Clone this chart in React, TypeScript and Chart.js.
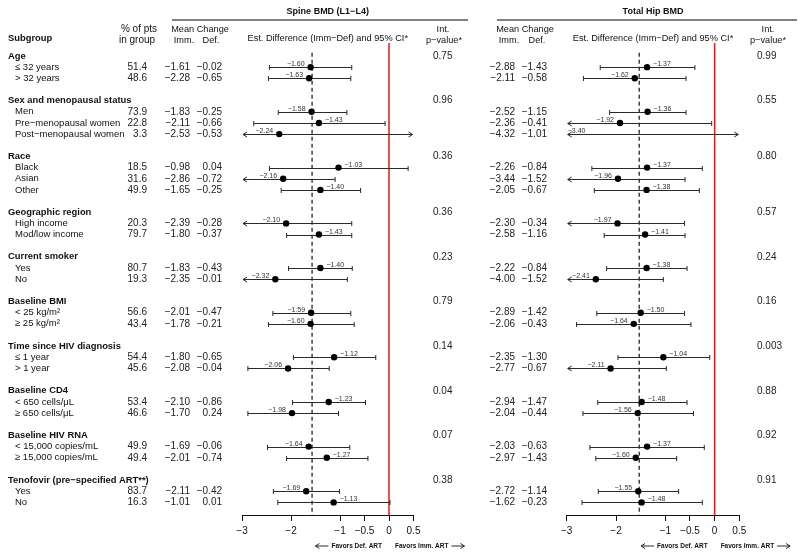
import React, { useEffect, useRef } from "react";
import { Chart, registerables } from "chart.js";

Chart.register(...registerables);

const MINUS = "\u2212";
const FONT = "'Liberation Sans', Arial, Helvetica, sans-serif";

// ---------------- data ----------------
const groups = [
  "Age",
  "Sex and menopausal status",
  "Race",
  "Geographic region",
  "Current smoker",
  "Baseline BMI",
  "Time since HIV diagnosis",
  "Baseline CD4",
  "Baseline HIV RNA",
  "Tenofovir (pre\u2212specified ART**)",
];
const groupSizes = [2, 3, 3, 2, 2, 2, 2, 2, 2, 2];
const subgroups = [
  "\u2264 32 years",
  "> 32 years",
  "Men",
  "Pre\u2212menopausal women",
  "Post\u2212menopausal women",
  "Black",
  "Asian",
  "Other",
  "High income",
  "Mod/low income",
  "Yes",
  "No",
  "< 25 kg/m\u00b2",
  "\u2265 25 kg/m\u00b2",
  "\u2264 1 year",
  "> 1 year",
  "< 650 cells/\u03bcL",
  "\u2265 650 cells/\u03bcL",
  "< 15,000 copies/mL",
  "\u2265 15,000 copies/mL",
  "Yes",
  "No",
];
const pctPts = [51.4, 48.6, 73.9, 22.8, 3.3, 18.5, 31.6, 49.9, 20.3, 79.7, 80.7, 19.3, 56.6, 43.4, 54.4, 45.6, 53.4, 46.6, 49.9, 49.4, 83.7, 16.3];

const spineImm = [-1.61, -2.28, -1.83, -2.11, -2.53, -0.98, -2.86, -1.65, -2.39, -1.80, -1.83, -2.35, -2.01, -1.78, -1.80, -2.08, -2.10, -1.70, -1.69, -2.01, -2.11, -1.01];
const spineDef = [-0.02, -0.65, -0.25, -0.66, -0.53, 0.04, -0.72, -0.25, -0.28, -0.37, -0.43, -0.01, -0.47, -0.21, -0.65, -0.04, -0.86, 0.24, -0.06, -0.74, -0.42, 0.01];
const spineEst = [-1.60, -1.63, -1.58, -1.43, -2.24, -1.03, -2.16, -1.40, -2.10, -1.43, -1.40, -2.32, -1.59, -1.60, -1.12, -2.06, -1.23, -1.98, -1.64, -1.27, -1.69, -1.13];
const spineLo = [-2.44, -2.46, -2.26, -2.76, -5.10, -2.44, -3.22, -2.20, -3.44, -2.09, -2.05, -3.79, -2.37, -2.46, -1.95, -2.88, -1.97, -2.88, -2.48, -2.09, -2.36, -2.27];
const spineHi = [-0.76, -0.78, -0.86, -0.08, 0.62, 0.39, -1.10, -0.58, -0.76, -0.76, -0.75, -0.85, -0.78, -0.71, -0.27, -1.22, -0.48, -1.03, -0.80, -0.43, -1.01, 0.02];
const spineP = ["0.75", "0.96", "0.36", "0.36", "0.23", "0.79", "0.14", "0.04", "0.07", "0.38"];
const spineOverall = -1.57;

const hipImm = [-2.88, -2.11, -2.52, -2.36, -4.32, -2.26, -3.44, -2.05, -2.30, -2.58, -2.22, -4.00, -2.89, -2.06, -2.35, -2.77, -2.94, -2.04, -2.03, -2.97, -2.72, -1.62];
const hipDef = [-1.43, -0.58, -1.15, -0.41, -1.01, -0.84, -1.52, -0.67, -0.34, -1.16, -0.84, -1.52, -1.42, -0.43, -1.30, -0.67, -1.47, -0.44, -0.63, -1.43, -1.14, -0.23];
const hipEst = [-1.37, -1.62, -1.36, -1.92, -3.40, -1.37, -1.96, -1.38, -1.97, -1.41, -1.38, -2.41, -1.50, -1.64, -1.04, -2.11, -1.48, -1.56, -1.37, -1.60, -1.55, -1.48];
const hipLo = [-2.32, -2.66, -2.13, -3.78, -7.40, -2.49, -3.32, -2.44, -3.33, -2.24, -2.19, -3.78, -2.39, -2.80, -1.96, -3.24, -2.37, -2.67, -2.53, -2.41, -2.36, -2.69];
const hipHi = [-0.40, -0.58, -0.58, -0.06, 0.60, -0.25, -0.60, -0.31, -0.61, -0.60, -0.56, -1.04, -0.61, -0.48, -0.10, -0.98, -0.56, -0.43, -0.21, -0.77, -0.73, -0.25];
const hipP = ["0.99", "0.55", "0.80", "0.57", "0.24", "0.16", "0.003", "0.88", "0.92", "0.91"];
const hipOverall = -1.53;

const xTicks = [-3, -2, -1, -0.5, 0, 0.5];
const xMin = -3;
const xMax = 0.5;

// ---------------- helpers ----------------
const fmt = (v: number, d = 2) => (v < 0 ? MINUS : "") + Math.abs(v).toFixed(d);
const fmtTick = (v: number) => (v < 0 ? MINUS : "") + String(Math.abs(v));

const headerSlots: number[] = [];
const rowSlots: number[] = [];
(() => {
  let s = 0;
  groupSizes.forEach((n) => {
    headerSlots.push(s);
    for (let j = 1; j <= n; j++) rowSlots.push(s + j);
    s += n + 2;
  });
})();

type PanelCfg = {
  est: number[];
  lo: number[];
  hi: number[];
  overall: number;
  padLeft: number;
  padRight: number;
  drawText: (chart: any, ctx: CanvasRenderingContext2D, py: (v: number) => number) => void;
};

function txt(ctx: CanvasRenderingContext2D, s: string, x: number, y: number, align: CanvasTextAlign, font: string, color = "#111") {
  ctx.font = font;
  ctx.fillStyle = color;
  ctx.textAlign = align;
  ctx.textBaseline = "middle";
  ctx.fillText(s, x, y);
}

function makePanel(canvas: HTMLCanvasElement, cfg: PanelCfg) {
  const plugin = {
    id: "forest",
    beforeDatasetsDraw(chart: any) {
      const { ctx, chartArea: a, scales } = chart;
      const x = scales.x;
      const y = scales.y;
      ctx.save();
      // reference (zero) line
      const x0 = x.getPixelForValue(0);
      ctx.strokeStyle = "#e0191b";
      ctx.lineWidth = 1.5;
      ctx.beginPath();
      ctx.moveTo(x0, a.top - 2);
      ctx.lineTo(x0, a.bottom);
      ctx.stroke();
      // overall dashed line
      const xo = x.getPixelForValue(cfg.overall);
      ctx.strokeStyle = "#111";
      ctx.lineWidth = 1.2;
      ctx.setLineDash([4, 3]);
      ctx.beginPath();
      ctx.moveTo(xo, y.getPixelForValue(-0.3));
      ctx.lineTo(xo, a.bottom);
      ctx.stroke();
      ctx.setLineDash([]);
      // CIs
      ctx.strokeStyle = "#2a2a2a";
      ctx.lineWidth = 1;
      cfg.est.forEach((e, i) => {
        const yy = Math.round(y.getPixelForValue(rowSlots[i])) + 0.5;
        const loOut = cfg.lo[i] < xMin;
        const hiOut = cfg.hi[i] > xMax;
        const x1 = x.getPixelForValue(Math.max(cfg.lo[i], xMin)) + (loOut ? 1 : 0);
        const x2 = x.getPixelForValue(Math.min(cfg.hi[i], xMax)) - (hiOut ? 1 : 0);
        ctx.beginPath();
        ctx.moveTo(x1, yy);
        ctx.lineTo(x2, yy);
        if (loOut) {
          ctx.moveTo(x1 + 4, yy - 2.5);
          ctx.lineTo(x1, yy);
          ctx.lineTo(x1 + 4, yy + 2.5);
        } else {
          ctx.moveTo(x1, yy - 2.5);
          ctx.lineTo(x1, yy + 2.5);
        }
        if (hiOut) {
          ctx.moveTo(x2 - 4, yy - 2.5);
          ctx.lineTo(x2, yy);
          ctx.lineTo(x2 - 4, yy + 2.5);
        } else {
          ctx.moveTo(x2, yy - 2.5);
          ctx.lineTo(x2, yy + 2.5);
        }
        ctx.stroke();
        // estimate label
        const label = fmt(e);
        ctx.font = `7px ${FONT}`;
        ctx.fillStyle = "#333";
        ctx.textBaseline = "alphabetic";
        const px = x.getPixelForValue(e);
        if (e < xMin) {
          ctx.textAlign = "left";
          ctx.fillText(label, x.getPixelForValue(xMin) + 1, yy - 2);
        } else if (e < cfg.overall) {
          ctx.textAlign = "right";
          ctx.fillText(label, px - 6, yy - 2);
        } else {
          ctx.textAlign = "left";
          ctx.fillText(label, px + 6, yy - 2);
        }
      });
      ctx.restore();
    },
    afterDraw(chart: any) {
      const { ctx, scales } = chart;
      ctx.save();
      cfg.drawText(chart, ctx, (v: number) => scales.y.getPixelForValue(v));
      ctx.restore();
    },
  };

  return new Chart(canvas, {
    type: "scatter",
    data: {
      datasets: [
        {
          data: cfg.est.map((e, i) => ({ x: e, y: rowSlots[i] })),
          backgroundColor: "#000",
          borderWidth: 0,
          pointRadius: 3.2,
          pointHoverRadius: 3.2,
        },
      ],
    },
    options: {
      responsive: false,
      animation: false,
      devicePixelRatio: 1,
      events: [],
      layout: { padding: { left: cfg.padLeft, right: cfg.padRight, top: 45, bottom: 0 } },
      plugins: { legend: { display: false }, tooltip: { enabled: false }, title: { display: false } },
      scales: {
        x: {
          type: "linear",
          min: xMin,
          max: xMax,
          afterBuildTicks: (s: any) => {
            s.ticks = xTicks.map((v) => ({ value: v }));
          },
          afterFit: (s: any) => {
            s.height = 42;
          },
          grid: { display: true, drawOnChartArea: false, drawTicks: true, tickLength: 6, color: "#111", lineWidth: 1 },
          border: { display: true, color: "#111", width: 1 },
          ticks: {
            autoSkip: false,
            maxRotation: 0,
            padding: 4,
            color: "#111",
            font: { family: FONT, size: 10 },
            callback: (v: any) => fmtTick(Number(v)),
          },
        },
        y: {
          type: "linear",
          min: -0.986,
          max: 41.13,
          reverse: true,
          display: false,
        },
      },
    },
    plugins: [plugin],
  } as any);
}

const F10 = `10px ${FONT}`;
const F95 = `9.5px ${FONT}`;
const B94 = `bold 9.4px ${FONT}`;
const B9 = `bold 9px ${FONT}`;
const H92 = `9.2px ${FONT}`;
const H10 = `10px ${FONT}`;

function favors(ctx: CanvasRenderingContext2D, x0: number, y: number) {
  const f = `bold 6.5px ${FONT}`;
  ctx.font = f;
  ctx.fillStyle = "#111";
  ctx.textBaseline = "middle";
  ctx.textAlign = "right";
  ctx.fillText("Favors Def. ART", x0 - 7, y);
  const w1 = ctx.measureText("Favors Def. ART").width;
  ctx.textAlign = "left";
  ctx.fillText("Favors Imm. ART", x0 + 6, y);
  const w2 = ctx.measureText("Favors Imm. ART").width;
  ctx.strokeStyle = "#111";
  ctx.lineWidth = 0.9;
  const la = x0 - 7 - w1 - 3;
  const ra = x0 + 6 + w2 + 3;
  ctx.beginPath();
  ctx.moveTo(la, y);
  ctx.lineTo(la - 13, y);
  ctx.moveTo(la - 9, y - 2.5);
  ctx.lineTo(la - 13, y);
  ctx.lineTo(la - 9, y + 2.5);
  ctx.moveTo(ra, y);
  ctx.lineTo(ra + 13, y);
  ctx.moveTo(ra + 9, y - 2.5);
  ctx.lineTo(ra + 13, y);
  ctx.lineTo(ra + 9, y + 2.5);
  ctx.stroke();
}

function titleBar(ctx: CanvasRenderingContext2D, title: string, cx: number, x1: number, x2: number) {
  txt(ctx, title, cx, 12, "center", B9);
  ctx.strokeStyle = "#808080";
  ctx.lineWidth = 2;
  ctx.beginPath();
  ctx.moveTo(x1, 20);
  ctx.lineTo(x2, 20);
  ctx.stroke();
}

const drawSpineText = (chart: any, ctx: CanvasRenderingContext2D, py: (v: number) => number) => {
  const a = chart.chartArea;
  const cx = (a.left + a.right) / 2;
  titleBar(ctx, "Spine BMD (L1\u2212L4)", cx, 172, 468);
  txt(ctx, "Subgroup", 8, 38, "left", B94);
  txt(ctx, "% of pts", 139, 29, "center", H10);
  txt(ctx, "in group", 137, 40, "center", H10);
  txt(ctx, "Mean Change", 200, 29, "center", H92);
  txt(ctx, "Imm.", 184, 40, "center", H92);
  txt(ctx, "Def.", 211, 40, "center", H92);
  txt(ctx, "Est. Difference (Imm\u2212Def) and 95% CI*", cx, 38, "center", H92);
  txt(ctx, "Int.", 443, 29, "center", H92);
  txt(ctx, "p\u2212value*", 444, 40, "center", H92);
  groups.forEach((g, i) => {
    const yy = py(headerSlots[i]);
    txt(ctx, g, 8, yy, "left", B94);
    txt(ctx, spineP[i], 433, yy, "left", F10, "#222");
  });
  subgroups.forEach((s, i) => {
    const yy = py(rowSlots[i]);
    txt(ctx, s, 15, yy, "left", F95);
    txt(ctx, pctPts[i].toFixed(1), 147, yy, "right", F10, "#222");
    txt(ctx, fmt(spineImm[i]), 190, yy, "right", F10, "#222");
    txt(ctx, fmt(spineDef[i]), 222, yy, "right", F10, "#222");
  });
  favors(ctx, chart.scales.x.getPixelForValue(0), 546);
};

const drawHipText = (chart: any, ctx: CanvasRenderingContext2D, py: (v: number) => number) => {
  const a = chart.chartArea;
  const cx = (a.left + a.right) / 2;
  titleBar(ctx, "Total Hip BMD", cx, 497, 797);
  txt(ctx, "Mean Change", 525, 29, "center", H92);
  txt(ctx, "Imm.", 509, 40, "center", H92);
  txt(ctx, "Def.", 537, 40, "center", H92);
  txt(ctx, "Est. Difference (Imm\u2212Def) and 95% CI*", cx, 38, "center", H92);
  txt(ctx, "Int.", 768, 29, "center", H92);
  txt(ctx, "p\u2212value*", 768, 40, "center", H92);
  groups.forEach((g, i) => {
    txt(ctx, hipP[i], 757, py(headerSlots[i]), "left", F10, "#222");
  });
  subgroups.forEach((s, i) => {
    const yy = py(rowSlots[i]);
    txt(ctx, fmt(hipImm[i]), 515, yy, "right", F10, "#222");
    txt(ctx, fmt(hipDef[i]), 547, yy, "right", F10, "#222");
  });
  favors(ctx, chart.scales.x.getPixelForValue(0), 546);
};

export default function App() {
  const spineRef = useRef<HTMLCanvasElement>(null);
  const hipRef = useRef<HTMLCanvasElement>(null);

  useEffect(() => {
    document.body.style.margin = "0";
    const c1 = makePanel(spineRef.current!, {
      est: spineEst,
      lo: spineLo,
      hi: spineHi,
      overall: spineOverall,
      padLeft: 242,
      padRight: 800 - 413.5,
      drawText: drawSpineText,
    });
    const c2 = makePanel(hipRef.current!, {
      est: hipEst,
      lo: hipLo,
      hi: hipHi,
      overall: hipOverall,
      padLeft: 566.7,
      padRight: 800 - 739.3,
      drawText: drawHipText,
    });
    return () => {
      c1.destroy();
      c2.destroy();
    };
  }, []);

  const cs: React.CSSProperties = { position: "absolute", left: 0, top: 0, width: 800, height: 557 };
  return (
    <div style={{ position: "absolute", left: 0, top: 0, width: 800, height: 557, background: "#fff" }}>
      <canvas ref={spineRef} width={800} height={557} style={cs} />
      <canvas ref={hipRef} width={800} height={557} style={cs} />
    </div>
  );
}
